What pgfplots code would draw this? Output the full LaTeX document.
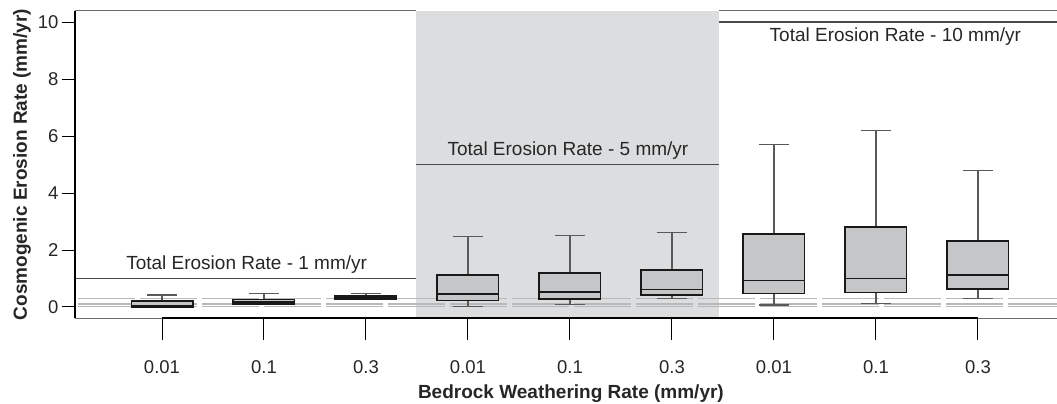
\documentclass[border=0pt]{standalone}
\usepackage{fontspec}
\setmainfont{Liberation Sans}
\usepackage{pgfplots}
\usepgfplotslibrary{statistics}
\pgfplotsset{compat=1.18}

\definecolor{boxfill}{HTML}{C5C6C8}
\definecolor{shade}{HTML}{DCDDDF}
\definecolor{dashgray}{HTML}{B8B8B8}
\definecolor{refline}{HTML}{4A4A4A}
\definecolor{framegray}{HTML}{6A6A6A}

\pgfplotsset{
  bx/.style={
    boxplot/draw direction=y,
    boxplot/box extend=0.6,
    boxplot/whisker extend=0.3,
    boxplot/every box/.style={draw=black!90, fill=boxfill, line width=1.8pt},
    boxplot/every whisker/.style={draw=black!65, line width=1.1pt},
    boxplot/every median/.style={draw=black!90, line width=1.4pt},
  },
}

\begin{document}
\begin{tikzpicture}
\useasboundingbox (-75pt,-86pt) rectangle (982pt,318pt);
\begin{axis}[
  at={(0,0)}, anchor=south west,
  scale only axis, width=982pt, height=307pt,
  xmin=0.147, xmax=9.775, ymin=-0.387, ymax=10.39,
  axis line style={draw=none},
  clip=false,
  xtick={1,...,9},
  xticklabels={0.01,0.1,0.3,0.01,0.1,0.3,0.01,0.1,0.3},
  xtick style={draw=none},
  ytick={0,2,...,10},
  tick align=outside, major tick length=13pt,
  ytick style={black, line width=1pt},
  /pgf/number format/assume math mode=true,
  ticklabel style={font=\fontsize{18.5}{20}\selectfont, text=black!85},
  xticklabel style={yshift=-26pt},
  every axis y label/.style={at={(axis description cs:-0.054,0.5)}, rotate=90, anchor=center},
  every axis x label/.style={at={(axis description cs:0.505,-0.247)}, anchor=center},
  label style={font=\fontsize{19}{21}\selectfont\bfseries, text=black!85},
  xlabel={Bedrock Weathering Rate (mm/yr)},
  ylabel={Cosmogenic Erosion Rate (mm/yr)},
]

% shaded middle group
\addplot[fill=shade, draw=none] coordinates {(3.49,-0.387) (6.465,-0.387) (6.465,10.39) (3.49,10.39)} -- cycle;

% frame
\draw[framegray, line width=1pt] (axis cs:0.147,10.39) -- (axis cs:3.49,10.39);
\draw[framegray, line width=1pt] (axis cs:6.465,10.39) -- (axis cs:9.775,10.39);
\draw[framegray, line width=1pt] (axis cs:0.147,-0.387) -- (axis cs:9.775,-0.387);

% weathering rate reference lines
\addplot[dashgray, line width=1.5pt, dash pattern=on 57pt off 5pt, dash phase=59pt] coordinates {(0.147,0.3) (9.775,0.3)};
\addplot[dashgray, line width=1.5pt, dash pattern=on 57pt off 5pt, dash phase=59pt] coordinates {(0.147,0.1) (9.775,0.1)};
\addplot[dashgray, line width=1.5pt, dash pattern=on 57pt off 5pt, dash phase=59pt] coordinates {(0.147,0.01) (9.775,0.01)};

% total erosion rate lines
\addplot[refline, line width=1.5pt] coordinates {(0.147,1) (3.49,1)};
\addplot[refline, line width=1.5pt] coordinates {(3.49,5) (6.465,5)};
\addplot[refline, line width=1.5pt] coordinates {(6.465,10) (9.775,10)};

\node[anchor=south, font=\fontsize{19}{21}\selectfont, text=black!85, inner sep=5pt] at (axis cs:1.83,1) {Total Erosion Rate - 1 mm/yr};
\node[anchor=south, font=\fontsize{19}{21}\selectfont, text=black!85, inner sep=5pt] at (axis cs:4.98,5) {Total Erosion Rate - 5 mm/yr};
\node[anchor=north, font=\fontsize{19}{21}\selectfont, text=black!85, inner sep=5pt] at (axis cs:8.19,10) {Total Erosion Rate - 10 mm/yr};

% total 1 mm/yr
\addplot[bx, boxplot prepared={draw position=1, lower whisker=0.0, lower quartile=0.01, median=0.05, upper quartile=0.21, upper whisker=0.42}] coordinates {};
\addplot[bx, boxplot prepared={draw position=2, lower whisker=0.09, lower quartile=0.10, median=0.17, upper quartile=0.26, upper whisker=0.46}] coordinates {};
\addplot[bx, boxplot prepared={draw position=3, lower whisker=0.28, lower quartile=0.29, median=0.35, upper quartile=0.39, upper whisker=0.48}] coordinates {};
% total 5 mm/yr
\addplot[bx, boxplot prepared={draw position=4, lower whisker=0.02, lower quartile=0.23, median=0.45, upper quartile=1.11, upper whisker=2.46}] coordinates {};
\addplot[bx, boxplot prepared={draw position=5, lower whisker=0.10, lower quartile=0.28, median=0.52, upper quartile=1.18, upper whisker=2.51}] coordinates {};
\addplot[bx, boxplot prepared={draw position=6, lower whisker=0.29, lower quartile=0.41, median=0.62, upper quartile=1.30, upper whisker=2.62}] coordinates {};
% total 10 mm/yr
\addplot[bx, boxplot prepared={draw position=7, lower whisker=0.07, lower quartile=0.47, median=0.93, upper quartile=2.56, upper whisker=5.70}] coordinates {};
\addplot[bx, boxplot prepared={draw position=8, lower whisker=0.12, lower quartile=0.51, median=1.00, upper quartile=2.81, upper whisker=6.19}] coordinates {};
\addplot[bx, boxplot prepared={draw position=9, lower whisker=0.30, lower quartile=0.64, median=1.12, upper quartile=2.31, upper whisker=4.78}] coordinates {};

% left axis and bottom axis line with ticks
\draw[black, line width=1.5pt] (axis cs:0.147,-0.387) -- (axis cs:0.147,10.39);
\draw[black, line width=2.5pt] (axis cs:1,-0.387) -- (axis cs:9,-0.387);
\foreach \i in {1,...,9} {
  \edef\temp{\noexpand\draw[black, line width=1pt] (axis cs:\i,-0.387) -- ([yshift=-22pt]axis cs:\i,-0.387);}
  \temp
}
\end{axis}
\end{tikzpicture}
\end{document}
